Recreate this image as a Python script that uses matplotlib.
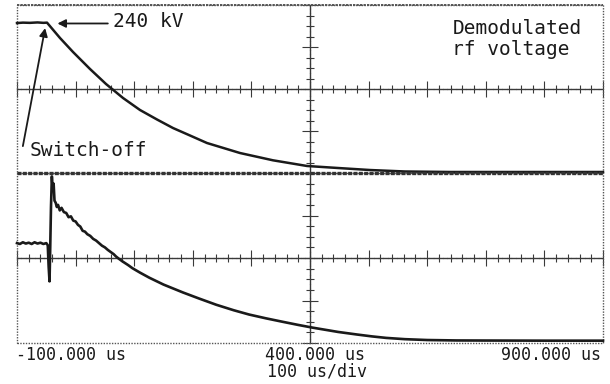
import matplotlib
matplotlib.use('Agg')
import matplotlib.pyplot as plt
from matplotlib.ticker import MultipleLocator
from matplotlib.patches import Rectangle

# ---- data (time in us, amplitude in screen divisions) ----
top_t = [-100, -90, -78, -65, -55, -48.8, -26.6, -4.4, 24.6, 51.9, 80.9,
         109.9, 138.9, 166.2, 195.2, 224.2, 280.5, 336.9, 394.9, 447.8,
         502.4, 562.1, 638.9, 724.2, 809.6, 900]
top_v = [1.57, 1.58, 1.575, 1.585, 1.575, 1.58, 1.214, 0.881, 0.476, 0.119,
         -0.214, -0.500, -0.726, -0.929, -1.107, -1.286, -1.524, -1.698,
         -1.833, -1.881, -1.929, -1.964, -1.976, -1.976, -1.976, -1.976]

bot_t = [-100, -95, -90, -85, -80, -75, -70, -65, -60, -55, -50,
         -47.5, -46, -44.5, -43.5, -42, -40.5, -39, -37.5, -36, -34, -32,
         -30, -27, -24, -20, -16, -12, -8, -4, 0, 4, 8, 12, 16, 20, 25, 30,
         35, 40, 45, 50, 55, 60, 65, 69, 75, 80, 90, 97, 110, 126, 150, 183,
         210, 240, 270, 296, 325, 353, 380, 405, 448, 480, 506, 530, 562,
         600, 650, 700, 800, 900]
bot_v = [0.35, 0.33, 0.37, 0.34, 0.36, 0.33, 0.37, 0.34, 0.36, 0.33, 0.35,
         0.30, -0.20, -0.55, 0.10, 1.20, 1.92, 1.60, 1.75, 1.35, 1.30, 1.20,
         1.25, 1.12, 1.18, 1.08, 1.06, 0.96, 0.98, 0.88, 0.86, 0.78, 0.74,
         0.64, 0.62, 0.56, 0.52, 0.45, 0.41, 0.35, 0.29, 0.25, 0.19, 0.14,
         0.09, 0.035, -0.03, -0.08, -0.17, -0.24, -0.345, -0.465, -0.625,
         -0.81, -0.95, -1.10, -1.23, -1.33, -1.42, -1.50, -1.575, -1.64,
         -1.74, -1.80, -1.845, -1.88, -1.91, -1.93, -1.94, -1.942, -1.945,
         -1.945]

x_labels = ['-100.000 us', '400.000 us', '900.000 us']
timebase_label = '100 us/div'

MONO = 'DejaVu Sans Mono'
INK = '#1a1a1a'
GRID = '#3a3a3a'

W, H = 610, 384
fig = plt.figure(figsize=(W / 100, H / 100), dpi=100)
fig.patch.set_facecolor('white')


def rect(l, t, r, b):
    return [l / W, 1 - b / H, (r - l) / W, (b - t) / H]


ax1 = fig.add_axes(rect(17, 5, 603, 173))
ax2 = fig.add_axes(rect(17, 173, 603, 343))

for ax in (ax1, ax2):
    ax.set_xlim(-100, 900)
    ax.set_ylim(-2, 2)
    ax.patch.set_alpha(0)
    for s in ('top', 'right'):
        ax.spines[s].set_visible(False)
    ax.spines['left'].set_position(('data', 400))
    ax.spines['bottom'].set_position(('data', 0))
    for s in ('left', 'bottom'):
        ax.spines[s].set_linestyle((0, (2.5, 0.8)))
        ax.spines[s].set_color(GRID)
        ax.spines[s].set_linewidth(1.0)
    ax.xaxis.set_major_locator(MultipleLocator(100))
    ax.xaxis.set_minor_locator(MultipleLocator(20))
    ax.yaxis.set_major_locator(MultipleLocator(1))
    ax.yaxis.set_minor_locator(MultipleLocator(0.25))
    ax.tick_params(which='major', direction='inout', length=11, width=0.8,
                   colors=GRID, labelbottom=False, labelleft=False)
    ax.tick_params(which='minor', direction='inout', length=6, width=0.8,
                   colors=GRID)
    ax.add_patch(Rectangle((0, 0), 1, 1, transform=ax.transAxes, fill=False,
                           ls=(0, (1, 1)), lw=1.0, ec='#555555',
                           clip_on=False, zorder=4))

# heavy separator between the two traces and along the top edge
ax2.axhline(2, color='#333333', lw=2.4, ls=(0, (1.2, 0.4)), zorder=4,
            clip_on=False)
ax1.axhline(2, color='#555555', lw=1.4, ls=(0, (1.2, 0.6)), zorder=4,
            clip_on=False)

ax1.plot(top_t, top_v, color=INK, lw=1.8, zorder=5, clip_on=False,
         solid_joinstyle='round')
ax2.plot(bot_t, bot_v, color=INK, lw=1.9, zorder=5, clip_on=False,
         solid_joinstyle='round')

arrow = dict(arrowstyle='-|>', color=INK, lw=1.3, mutation_scale=12,
             shrinkA=0, shrinkB=0)
ax1.annotate('', xy=(-31, 1.56), xytext=(55, 1.56), arrowprops=arrow,
             zorder=6)
ax1.text(63, 1.60, '240 kV', family=MONO, fontsize=14, color=INK,
         ha='left', va='center')
ax1.annotate('', xy=(-52, 1.45), xytext=(-90, -1.36), arrowprops=arrow,
             zorder=6)
ax1.text(-79, -1.47, 'Switch-off', family=MONO, fontsize=14, color=INK,
         ha='left', va='center')
ax1.text(643, 1.45, 'Demodulated', family=MONO, fontsize=14, color=INK,
         ha='left', va='center')
ax1.text(643, 0.95, 'rf voltage', family=MONO, fontsize=14, color=INK,
         ha='left', va='center')

fig.text(16 / W, 1 - 355 / H, x_labels[0], family=MONO, fontsize=12,
         color=INK, ha='left', va='center')
fig.text(315 / W, 1 - 355 / H, x_labels[1], family=MONO, fontsize=12,
         color=INK, ha='center', va='center')
fig.text(601 / W, 1 - 355 / H, x_labels[2], family=MONO, fontsize=12,
         color=INK, ha='right', va='center')
fig.text(317 / W, 1 - 372 / H, timebase_label, family=MONO, fontsize=12,
         color=INK, ha='center', va='center')

fig.savefig('out.png', dpi=100, facecolor='white')
